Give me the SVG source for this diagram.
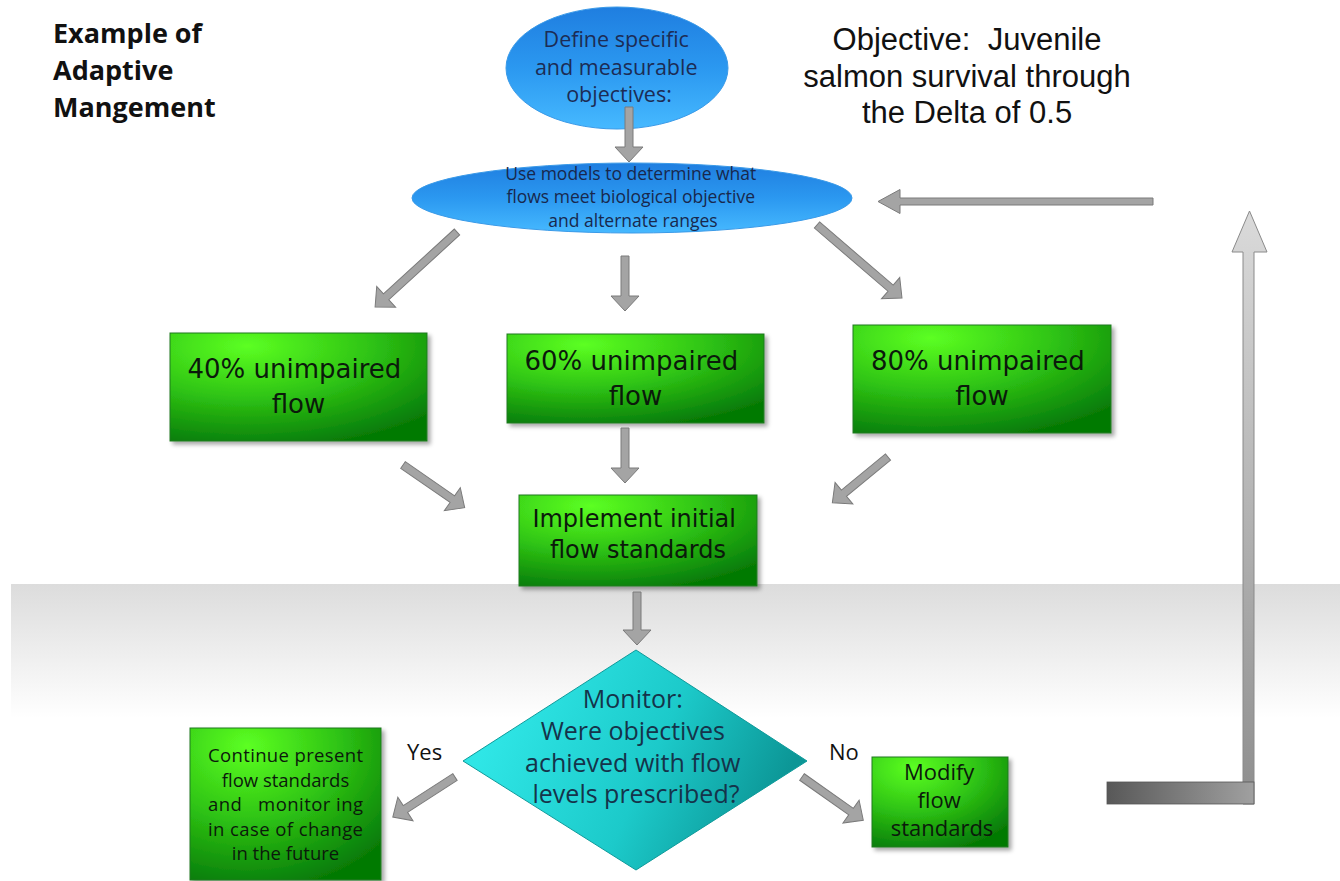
<svg xmlns="http://www.w3.org/2000/svg" width="1340" height="881" viewBox="0 0 1340 881">
<defs>
  <linearGradient id="band" x1="0" y1="0" x2="0" y2="1">
    <stop offset="0" stop-color="#dcdcdc"/>
    <stop offset="1" stop-color="#ffffff"/>
  </linearGradient>
  <radialGradient id="green" cx="0.3" cy="0.12" r="0.95">
    <stop offset="0" stop-color="#5cff22"/>
    <stop offset="0.5" stop-color="#2fc414"/>
    <stop offset="1" stop-color="#067a06"/>
  </radialGradient>
  <linearGradient id="blue" x1="0" y1="0" x2="0" y2="1">
    <stop offset="0" stop-color="#1f7ee0"/>
    <stop offset="0.5" stop-color="#2b98f0"/>
    <stop offset="1" stop-color="#46b9ff"/>
  </linearGradient>
  <linearGradient id="teal" x1="0.1" y1="0.3" x2="0.95" y2="0.55">
    <stop offset="0" stop-color="#2fe6e6"/>
    <stop offset="0.55" stop-color="#1ccaca"/>
    <stop offset="1" stop-color="#0c9696"/>
  </linearGradient>
  <linearGradient id="upArrow" gradientUnits="userSpaceOnUse" x1="0" y1="211" x2="0" y2="804">
    <stop offset="0" stop-color="#dadada"/>
    <stop offset="1" stop-color="#8e8e8e"/>
  </linearGradient>
  <linearGradient id="bar" x1="0" y1="0" x2="1" y2="0">
    <stop offset="0" stop-color="#585858"/>
    <stop offset="1" stop-color="#a0a0a0"/>
  </linearGradient>
  <filter id="shadow" x="-10%" y="-10%" width="125%" height="130%">
    <feDropShadow dx="3" dy="3" stdDeviation="2" flood-color="#000" flood-opacity="0.35"/>
  </filter>
  <style>
    .box { fill: url(#green); stroke: #1f7a1f; stroke-width: 1; filter: url(#shadow); }
    .ell { fill: url(#blue); stroke: #3a9ae8; stroke-width: 1; }
    .big { font-family: "DejaVu Sans", Verdana, sans-serif; fill: #0b1a0b; text-anchor: middle; }
    .cal { font-family: "Open Sans", "Liberation Sans", sans-serif; text-anchor: middle; }
    .obj { font-family: "Liberation Sans", Arial, sans-serif; font-size: 31px; fill: #111; text-anchor: middle; white-space: pre; }
    .ttl { font-family: "Open Sans", "Liberation Sans", sans-serif; font-weight: bold; font-size: 27px; fill: #111; }
    .cont { font-family: "Open Sans", "Liberation Sans", sans-serif; font-size: 18.5px; fill: #0b1a0b; text-anchor: middle; white-space: pre; }
    .lbl { font-family: "Open Sans", "Liberation Sans", sans-serif; font-size: 22px; fill: #111; }
    .arr { fill: #a4a4a4; stroke: #7a7a7a; stroke-width: 1; }
  </style>
</defs>

<rect x="0" y="0" width="1340" height="881" fill="#ffffff"/>
<rect x="11" y="584" width="1329" height="134" fill="url(#band)"/>

<g id="title">
  <text class="ttl" x="53" y="43">Example of</text>
  <text class="ttl" x="53" y="80">Adaptive</text>
  <text class="ttl" x="53" y="117">Mangement</text>
</g>

<g id="objective-note">
  <text class="obj" x="967" y="50">Objective:  Juvenile</text>
  <text class="obj" x="967" y="87">salmon survival through</text>
  <text class="obj" x="967" y="123">the Delta of 0.5</text>
</g>

<g id="define-objectives">
  <ellipse class="ell" cx="617" cy="68" rx="111" ry="61"/>
  <text class="cal" font-size="21.5" fill="#1c2c55">
    <tspan x="619" y="47">Define specific</tspan>
    <tspan x="619" y="75">and measurable</tspan>
    <tspan x="619" y="102">objectives:</tspan>
  </text>
</g>

<g id="use-models">
  <ellipse class="ell" cx="632" cy="198" rx="220" ry="35"/>
  <text class="cal" font-size="17.5" fill="#18284d">
    <tspan x="633" y="180">Use models to determine what</tspan>
    <tspan x="633" y="203">flows meet biological objective</tspan>
    <tspan x="633" y="227">and alternate ranges</tspan>
  </text>
</g>

<g id="flow40">
  <rect class="box" x="170" y="333" width="257" height="108"/>
  <text class="big" font-size="26">
    <tspan x="298.5" y="378">40% unimpaired</tspan>
    <tspan x="298.5" y="413">flow</tspan>
  </text>
</g>

<g id="flow60">
  <rect class="box" x="507" y="334" width="257" height="89"/>
  <text class="big" font-size="26">
    <tspan x="635.5" y="370">60% unimpaired</tspan>
    <tspan x="635.5" y="405">flow</tspan>
  </text>
</g>

<g id="flow80">
  <rect class="box" x="853" y="325" width="258" height="108"/>
  <text class="big" font-size="26">
    <tspan x="982" y="370">80% unimpaired</tspan>
    <tspan x="982" y="405">flow</tspan>
  </text>
</g>

<g id="implement">
  <rect class="box" x="519" y="495" width="238" height="91"/>
  <text class="big" font-size="24">
    <tspan x="638" y="527">Implement initial</tspan>
    <tspan x="638" y="558">flow standards</tspan>
  </text>
</g>

<g id="monitor">
  <polygon points="636,650 807,761 636,870 463,761" fill="url(#teal)" stroke="#0e9a9a" stroke-width="1"/>
  <text class="cal" font-size="25" fill="#15334a">
    <tspan x="636" y="708">Monitor:</tspan>
    <tspan x="636" y="740">Were objectives</tspan>
    <tspan x="636" y="772">achieved with flow</tspan>
    <tspan x="636" y="803">levels prescribed?</tspan>
  </text>
</g>

<g id="continue">
  <rect class="box" x="190" y="728" width="191" height="152"/>
  <text class="cont" x="285.5" y="762" textLength="155" lengthAdjust="spacing">Continue present</text>
  <text class="cont" x="285.5" y="787">flow standards</text>
  <text class="cont" x="285.5" y="811" textLength="155" lengthAdjust="spacing">and   monitor ing</text>
  <text class="cont" x="285.5" y="836" textLength="155" lengthAdjust="spacing">in case of change</text>
  <text class="cont" x="285.5" y="860">in the future</text>
</g>

<g id="modify">
  <rect class="box" x="872" y="757" width="136" height="90"/>
  <text class="cal" font-size="22" fill="#0b1a0b">
    <tspan x="942" y="780">Modify</tspan>
    <tspan x="942" y="808">flow</tspan>
    <tspan x="942" y="836">standards</tspan>
  </text>
</g>

<g id="labels">
  <text class="lbl" x="407" y="760">Yes</text>
  <text class="lbl" x="829" y="760">No</text>
</g>

<g id="connectors">
  <path class="arr" transform="translate(629,107) rotate(90)" d="M0,-4 L40,-4 L40,-14 L55,0 L40,14 L40,4 L0,4 Z"/>
  <path class="arr" transform="translate(457,232) rotate(137.55)" d="M0,-4 L96,-4 L96,-14 L111,0 L96,14 L96,4 L0,4 Z"/>
  <path class="arr" transform="translate(625,256) rotate(90)" d="M0,-4 L40,-4 L40,-14 L55,0 L40,14 L40,4 L0,4 Z"/>
  <path class="arr" transform="translate(817,225) rotate(40.65)" d="M0,-4 L97,-4 L97,-14 L112,0 L97,14 L97,4 L0,4 Z"/>
  <path class="arr" transform="translate(403,465) rotate(34.7)" d="M0,-4 L60,-4 L60,-14 L75,0 L60,14 L60,4 L0,4 Z"/>
  <path class="arr" transform="translate(625,428) rotate(90)" d="M0,-4 L40,-4 L40,-14 L55,0 L40,14 L40,4 L0,4 Z"/>
  <path class="arr" transform="translate(888,457) rotate(140.6)" d="M0,-4 L57,-4 L57,-14 L72,0 L57,14 L57,4 L0,4 Z"/>
  <path class="arr" transform="translate(637,592) rotate(90)" d="M0,-4 L38,-4 L38,-14 L53,0 L38,14 L38,4 L0,4 Z"/>
  <path class="arr" transform="translate(455,777) rotate(147.2)" d="M0,-4 L59,-4 L59,-14 L74,0 L59,14 L59,4 L0,4 Z"/>
  <path class="arr" transform="translate(802,777) rotate(35.2)" d="M0,-4 L60,-4 L60,-14 L75,0 L60,14 L60,4 L0,4 Z"/>
  <path class="arr" transform="translate(1153,201.5) rotate(180)" d="M0,-3.5 L253,-3.5 L253,-12 L275,0 L253,12 L253,3.5 L0,3.5 Z"/>
  <polygon points="1243,804 1243,252 1232,252 1249.5,211 1267,252 1254,252 1254,804" fill="url(#upArrow)" stroke="#8a8a8a" stroke-width="1"/>
  <rect x="1107" y="782" width="147" height="22" fill="url(#bar)" stroke="#555" stroke-width="0.8"/>
</g>
</svg>
